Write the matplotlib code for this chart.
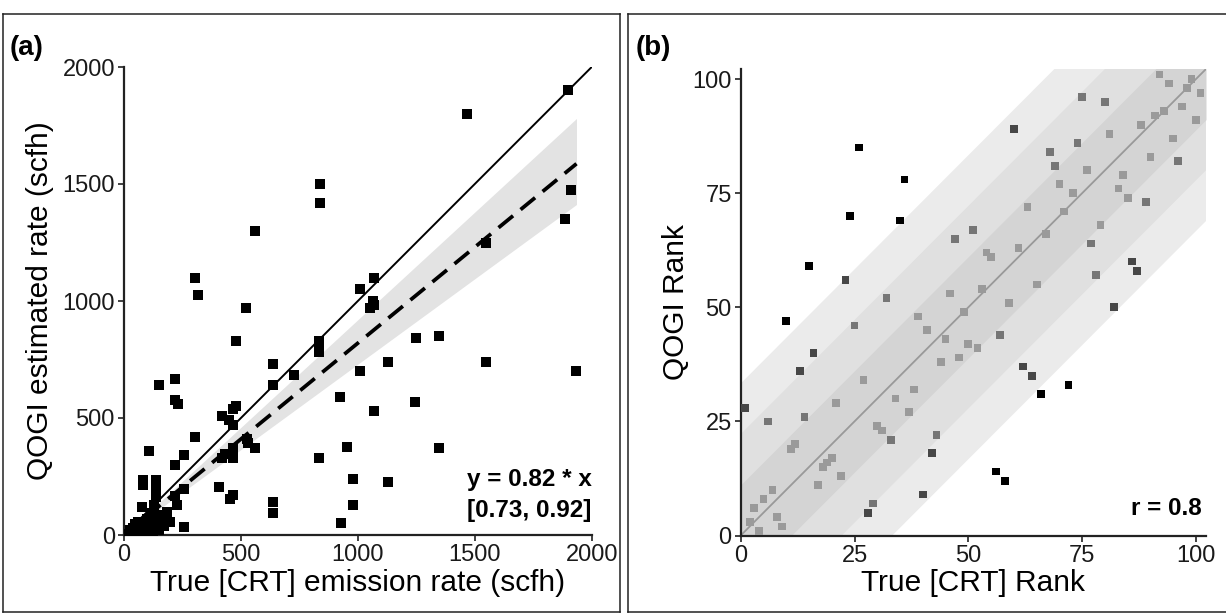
import numpy as np
import matplotlib
matplotlib.use("Agg")
import matplotlib.pyplot as plt
from matplotlib.lines import Line2D

# ---------------- Panel (a) data ----------------
true_rate = [1900, 1465, 840, 840, 560, 1910, 1885, 1550, 305, 315, 520, 1070, 1010, 1065, 1050, 1070,
             480, 835, 835, 835, 1250, 1345, 637, 1130, 1550, 1010, 1935, 725, 220,
             150, 220, 230, 637, 925, 1245, 1070, 480, 465, 420, 450, 465, 305, 525, 530, 560, 105,
             255, 220, 465, 465, 420, 430, 835, 955, 980, 1130, 980, 930, 637, 637, 405, 465, 455,
             255, 218, 228, 255, 195, 83, 83, 137, 137, 137, 76, 1345,
             15, 25, 35, 40, 50, 55, 65, 70, 80, 90, 95, 100, 105, 110, 115, 120, 125, 130, 140,
             145, 150, 160, 170, 185, 60, 45]
qogi_rate = [1900, 1800, 1500, 1420, 1300, 1475, 1350, 1250, 1100, 1025, 970, 1100, 1050, 1000, 970, 985,
             830, 830, 805, 780, 840, 850, 730, 740, 740, 700, 700, 685, 665,
             640, 575, 560, 640, 590, 570, 530, 550, 540, 510, 490, 470, 420, 410, 395, 370, 360,
             340, 300, 370, 330, 330, 345, 330, 375, 240, 225, 128, 50, 142, 93, 205, 170, 155,
             195, 165, 128, 35, 57, 235, 214, 235, 201, 164, 121, 370,
             5, 20, 10, 30, 15, 40, 10, 30, 55, 45, 15, 70, 5, 30, 95, 60, 15, 130, 45,
             85, 20, 65, 40, 100, 55, 45]
slope, slope_lo, slope_hi = 0.82, 0.73, 0.92
a_ticks = [0, 500, 1000, 1500, 2000]

# ---------------- Panel (b) data ----------------
true_rank = [92, 94, 99, 98, 101, 75, 80, 91, 93, 97, 100, 88, 60, 81, 74, 95, 68, 90, 96, 69, 76, 26,
             84, 70, 83, 73, 85, 89, 36, 24, 35, 63, 71, 79, 67, 51, 47, 77, 61, 54, 55, 86, 87, 78,
             15, 23, 46, 53, 65, 32, 59, 82, 49, 39, 10,
             25, 41, 57, 45, 50, 52, 16, 44, 48, 62, 64, 13, 27, 72, 66, 38, 34, 21, 1, 37, 14, 6,
             30, 31, 43, 33, 11, 12, 42, 20, 19, 18, 22, 56, 58, 17, 7, 40, 5, 29, 3, 28, 8, 2, 9, 4]
qogi_rank = [101, 99, 100, 98, 97, 96, 95, 92, 93, 94, 91, 90, 89, 88, 86, 87, 84, 83, 82, 81, 80, 85,
             79, 77, 76, 75, 74, 73, 78, 70, 69, 72, 71, 68, 66, 67, 65, 64, 63, 62, 61, 60, 58, 57,
             59, 56, 53, 54, 55, 52, 51, 50, 49, 48, 47,
             46, 45, 44, 43, 42, 41, 40, 38, 39, 37, 35, 36, 34, 33, 31, 32, 30, 29, 28, 27, 26, 25,
             24, 23, 22, 21, 19, 20, 18, 17, 16, 15, 13, 14, 12, 11, 10, 9, 8, 7, 6, 5, 4, 3, 2, 1]
r_value = 0.8
b_ticks = [0, 25, 50, 75, 100]
band_widths = [33.3, 22.2, 11.1]
band_colors = ["#EBEBEB", "#E0E0E0", "#D4D4D4"]
point_grays = ["#9A9A9A", "#767676", "#474747", "#000000"]

W, H = 1226, 614
plt.rcParams["font.family"] = ["Liberation Sans", "DejaVu Sans"]
fig = plt.figure(figsize=(W / 100, H / 100), dpi=100)


def px_axes(l, t, r, b):
    return fig.add_axes([l / W, 1 - b / H, (r - l) / W, (b - t) / H])


def style(ax, ticks):
    for s in ["top", "right"]:
        ax.spines[s].set_visible(False)
    for s in ["left", "bottom"]:
        ax.spines[s].set_linewidth(1.6)
        ax.spines[s].set_color("#222222")
    ax.set_xticks(ticks)
    ax.set_yticks(ticks)
    ax.tick_params(direction="out", length=4, width=1.3, color="#333333",
                   labelsize=17, labelcolor="#1A1A1A", pad=2.5)


# ---------------- Panel (a) ----------------
axA = px_axes(124, 67, 591.7, 535)
xa = np.array(true_rate, float)
ya = np.array(qogi_rate, float)
xl = np.linspace(0, xa.max(), 100)
axA.fill_between(xl, slope_lo * xl, slope_hi * xl, color="#E3E3E3", lw=0, zorder=1)
axA.plot([0, 2000], [0, 2000], color="black", lw=1.4, zorder=2)
axA.plot(xl, slope * xl, color="black", lw=2.7, ls=(0, (5, 2.6)), zorder=2)
axA.scatter(xa, ya, marker="s", s=42, color="black", linewidths=0, zorder=3)
axA.set_xlim(0, 2000)
axA.set_ylim(0, 2000)
style(axA, a_ticks)
axA.set_xlabel("True [CRT] emission rate (scfh)", fontsize=21.5, labelpad=2)
axA.set_ylabel("QOGI estimated rate (scfh)", fontsize=21.5, labelpad=6)
axA.text(2000, 209, f"y = {slope} * x", ha="right", va="baseline",
         fontsize=17.5, fontweight="bold")
axA.text(2000, 77, f"[{slope_lo}, {slope_hi}]", ha="right", va="baseline",
         fontsize=17.5, fontweight="bold")

# ---------------- Panel (b) ----------------
axB = px_axes(740.7, 69, 1206, 535.5)
lim = 102.2
xb = np.linspace(0, lim, 200)
for d, c in zip(band_widths, band_colors):
    axB.fill_between(xb, xb - d, xb + d, color=c, lw=0, zorder=1)
axB.plot([0, lim], [0, lim], color="#999999", lw=1.3, zorder=2)
tr = np.array(true_rank, float)
qr = np.array(qogi_rank, float)
diff = np.abs(qr - tr)
idx = np.digitize(diff, sorted(band_widths), right=True)
cols = [point_grays[i] for i in idx]
axB.scatter(tr, qr, marker="s", s=31, c=cols, linewidths=0, zorder=3)
axB.set_xlim(0, lim)
axB.set_ylim(0, lim)
style(axB, b_ticks)
axB.set_xlabel("True [CRT] Rank", fontsize=21.5, labelpad=2)
axB.set_ylabel("QOGI Rank", fontsize=21.5, labelpad=2)
axB.text(101.2, 4.5, f"r = {r_value}", ha="right", va="baseline",
         fontsize=17.5, fontweight="bold")

# ---------------- Panel labels & frames ----------------
lab_font = ["Liberation Sans Narrow", "Liberation Sans", "DejaVu Sans"]
fig.text(10 / W, 1 - 55 / H, "(a)", fontsize=20, fontweight="bold", family=lab_font)
fig.text(636 / W, 1 - 55 / H, "(b)", fontsize=20, fontweight="bold", family=lab_font)


def fline(x0, y0, x1, y1):
    fig.add_artist(Line2D([x0 / W, x1 / W], [1 - y0 / H, 1 - y1 / H],
                          transform=fig.transFigure, color="#222222", lw=1.1))


fline(3, 14, 620, 14)
fline(3, 14, 3, 612)
fline(620, 14, 620, 612)
fline(3, 612, 620, 612)
fline(628, 14, 1226, 14)
fline(628, 14, 628, 612)
fline(628, 612, 1226, 612)

fig.savefig("out.png", dpi=100)
